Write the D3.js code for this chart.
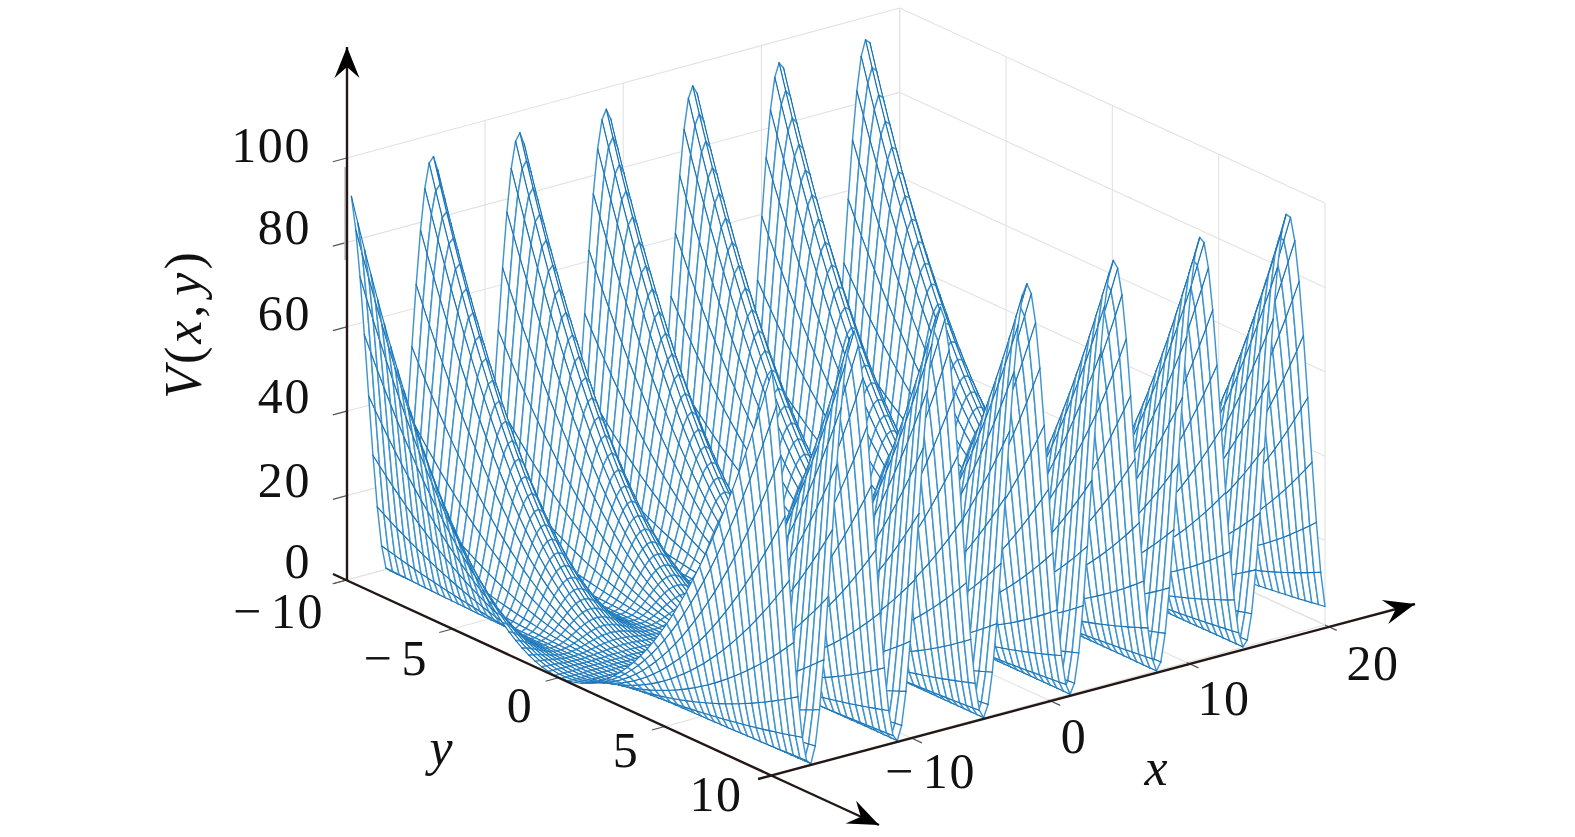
<!DOCTYPE html>
<html>
<head>
<meta charset="utf-8">
<script src="https://cdn.jsdelivr.net/npm/d3@7/dist/d3.min.js"></script>
<style>
html,body{margin:0;padding:0;background:#fff;overflow:hidden}
text{font-family:"Liberation Serif",serif;fill:#111}
</style>
</head>
<body>
<script>
// Data: the surface is stored as two read-off profiles rather than one reading per cell:
// ridgeHeights = V along the y = 10 edge at each xNodes value,
// spanShares   = share of that edge height reached at each yNodes value.
// A cell's height is ridgeHeights[i] * spanShares[j].
const xNodes = [-20,-19.6875,-19.375,-19.0625,-18.75,-18.4375,-18.125,-17.8125,-17.5,-17.1875,-16.875,-16.5625,-16.25,-15.9375,-15.625,-15.3125,-15,-14.6875,-14.375,-14.0625,-13.75,-13.4375,-13.125,-12.8125,-12.5,-12.1875,-11.875,-11.5625,-11.25,-10.9375,-10.625,-10.3125,-10,-9.6875,-9.375,-9.0625,-8.75,-8.4375,-8.125,-7.8125,-7.5,-7.1875,-6.875,-6.5625,-6.25,-5.9375,-5.625,-5.3125,-5,-4.6875,-4.375,-4.0625,-3.75,-3.4375,-3.125,-2.8125,-2.5,-2.1875,-1.875,-1.5625,-1.25,-0.9375,-0.625,-0.3125,0,0.3125,0.625,0.9375,1.25,1.5625,1.875,2.1875,2.5,2.8125,3.125,3.4375,3.75,4.0625,4.375,4.6875,5,5.3125,5.625,5.9375,6.25,6.5625,6.875,7.1875,7.5,7.8125,8.125,8.4375,8.75,9.0625,9.375,9.6875,10,10.3125,10.625,10.9375,11.25,11.5625,11.875,12.1875,12.5,12.8125,13.125,13.4375,13.75,14.0625,14.375,14.6875,15,15.3125,15.625,15.9375,16.25,16.5625,16.875,17.1875,17.5,17.8125,18.125,18.4375,18.75,19.0625,19.375,19.6875,20];
const ridgeHeights = [95.6,87.2,75.1,60.5,45.0,30.0,16.9,7.0,1.2,0.2,4.1,12.4,24.0,38.6,54.2,69.3,82.5,92.6,98.6,99.9,96.3,88.2,76.5,62.2,46.7,31.5,18.2,7.8,1.6,0.1,3.4,11.2,22.8,37.0,52.5,67.7,81.2,91.7,98.2,100,96.9,89.3,77.9,63.8,48.3,33.1,19.4,8.7,2.0,0,2.8,10.2,21.4,35.4,50.8,66.2,79.9,90.8,97.7,100,97.4,90.3,79.2,65.4,50.0,34.6,20.8,9.7,2.6,0,2.3,9.2,20.1,33.9,49.2,64.6,78.6,89.8,97.2,100,97.9,91.3,80.6,66.9,51.6,36.2,22.1,10.7,3.1,0,1.8,8.3,18.8,32.3,47.5,63.0,77.2,88.8,96.6,99.9,98.4,92.2,81.9,68.5,53.3,37.8,23.5,11.8,3.7,0.1,1.4,7.4,17.5,30.7,45.9,61.4,75.8,87.7,96.0,99.8,98.8,93.0,83.1,70.0,55.0,39.4,24.9,12.8,4.4];
const yNodes = [-9.78,-9.471,-9.162,-8.853,-8.544,-8.235,-7.926,-7.617,-7.308,-6.999,-6.69,-6.381,-6.072,-5.763,-5.454,-5.145,-4.836,-4.527,-4.218,-3.909,-3.6,-3.291,-2.982,-2.673,-2.364,-2.055,-1.746,-1.437,-1.128,-0.819,-0.51,-0.201,0.108,0.417,0.726,1.035,1.344,1.653,1.962,2.271,2.58,2.889,3.198,3.507,3.816,4.125,4.434,4.743,5.052,5.361,5.67,5.979,6.288,6.597,6.906,7.215,7.524,7.833,8.142,8.451,8.76,9.069,9.378,9.687,10];
const spanShares = [.9565,.8970,.8394,.7838,.7300,.6782,.6282,.5802,.5341,.4899,.4476,.4072,.3687,.3321,.2975,.2647,.2339,.2049,.1779,.1528,.1296,.1083,.0889,.0715,.0559,.0422,.0305,.0206,.0127,.0067,.0026,.0004,.0001,.0017,.0053,.0107,.0181,.0273,.0385,.0516,.0666,.0835,.1023,.1230,.1456,.1702,.1966,.2250,.2552,.2874,.3215,.3575,.3954,.4352,.4769,.5206,.5661,.6136,.6629,.7142,.7674,.8225,.8795,.9384,1];
const xTicks = [-10,0,10,20];
const yTicks = [-10,-5,0,5,10];
const zTicks = [0,20,40,60,80,100];
const xGridLines = [-20,-10,0,10,20];
const yGridLines = [-10,-5,0,5,10];
const xTickLabels = ["−10","0","10","20"];
const yTickLabels = ["−10","−5","0","5","10"];
const zTickLabels = ["0","20","40","60","80","100"];

const W = 1575, H = 837;
const svg = d3.select("body").append("svg").attr("width",W).attr("height",H).style("display","block");
svg.append("defs").append("filter").attr("id","soft").attr("filterUnits","userSpaceOnUse")
  .attr("x",0).attr("y",0).attr("width",W).attr("height",H)
  .append("feGaussianBlur").attr("stdDeviation",0.55);

// Orthographic box: each data axis maps to a screen offset through linear scales
const xToLeft = d3.scaleLinear([-20,20],[0,553]);
const xToTop  = d3.scaleLinear([-20,20],[0,-150]);
const yToLeft = d3.scaleLinear([-10,10],[346.7,772]);
const yToTop  = d3.scaleLinear([-10,10],[580,775]);
const zToTop  = d3.scaleLinear([0,100],[0,-422]);
const project = (x,y,z) => [xToLeft(x)+yToLeft(y), xToTop(x)+yToTop(y)+zToTop(z)];

const seg = (a,b) => { const p=d3.path(); p.moveTo(a[0],a[1]); p.lineTo(b[0],b[1]); return p.toString(); };
const grid = svg.append("g").attr("stroke","#e2e2e2").attr("stroke-width",1.1).attr("fill","none");
const gridSegs = [];
zTicks.forEach(z => {
  gridSegs.push([project(-20,-10,z),project(20,-10,z)]);
  gridSegs.push([project(20,-10,z),project(20,10,z)]);
});
xGridLines.forEach(x => {
  gridSegs.push([project(x,-10,0),project(x,-10,100)]);
  gridSegs.push([project(x,-10,0),project(x,10,0)]);
});
yGridLines.forEach(y => {
  gridSegs.push([project(20,y,0),project(20,y,100)]);
  gridSegs.push([project(-20,y,0),project(20,y,0)]);
});
grid.selectAll("path").data(gridSegs).join("path").attr("d",d=>seg(d[0],d[1]));

// Mesh cells, painted far to near: white face, then the pale y = const edges, then the darker x = const edges
const V = (i,j) => ridgeHeights[i]*spanShares[j];
const ops = [];
for (let i=xNodes.length-2;i>=0;i--) for (let j=0;j<yNodes.length-1;j++) {
  const a=project(xNodes[i],yNodes[j],V(i,j)), b=project(xNodes[i+1],yNodes[j],V(i+1,j)),
        c=project(xNodes[i+1],yNodes[j+1],V(i+1,j+1)), d=project(xNodes[i],yNodes[j+1],V(i,j+1));
  const face=d3.path(); face.moveTo(a[0],a[1]);face.lineTo(b[0],b[1]);face.lineTo(c[0],c[1]);face.lineTo(d[0],d[1]);face.closePath();
  const yEdges=d3.path(); yEdges.moveTo(a[0],a[1]);yEdges.lineTo(b[0],b[1]);yEdges.moveTo(d[0],d[1]);yEdges.lineTo(c[0],c[1]);
  const xEdges=d3.path(); xEdges.moveTo(a[0],a[1]);xEdges.lineTo(d[0],d[1]);xEdges.moveTo(b[0],b[1]);xEdges.lineTo(c[0],c[1]);
  ops.push({d:face.toString(),fill:"#fff",stroke:"none",w:0});
  ops.push({d:yEdges.toString(),fill:"none",stroke:"#3f95d0",w:1.45});
  ops.push({d:xEdges.toString(),fill:"none",stroke:"#1872b6",w:1.1});
}
svg.append("g").attr("filter","url(#soft)").attr("stroke-linecap","round")
  .selectAll("path").data(ops).join("path")
  .attr("d",o=>o.d).attr("fill",o=>o.fill).attr("stroke",o=>o.stroke).attr("stroke-width",o=>o.w);

// Ticks
const ticks = svg.append("g").attr("stroke","#555").attr("stroke-width",1.2);
const tickSegs = [];
zTicks.forEach(z=>tickSegs.push([project(-20,-10,z),project(-21,-10,z)]));
yTicks.forEach(y=>tickSegs.push([project(-20,y,0),project(-21,y,0)]));
xTicks.forEach(x=>tickSegs.push([project(x,10,0),project(x,10.55,0)]));
ticks.selectAll("path").data(tickSegs).join("path").attr("d",d=>seg(d[0],d[1]));

// Faint stub beside the vertical axis
svg.append("path").attr("d",seg([345.5,167],[345.5,260])).attr("stroke","#bdbdbd").attr("stroke-width",2.5);

// Axis arrows
const axisColor="#231815";
function arrow(x0,y0,x1,y1){
  svg.append("path").attr("d",seg([x0,y0],[x1,y1])).attr("stroke",axisColor).attr("stroke-width",2.4).attr("fill","none");
  const ang=Math.atan2(y1-y0,x1-x0), ca=Math.cos(ang), sa=Math.sin(ang);
  const pt=(u,v)=>[x1+u*ca-v*sa, y1+u*sa+v*ca];
  const p=d3.path();
  let q=pt(0,0);p.moveTo(q[0],q[1]);
  q=pt(-31,12.5);p.lineTo(q[0],q[1]);
  q=pt(-20,0);p.lineTo(q[0],q[1]);
  q=pt(-31,-12.5);p.lineTo(q[0],q[1]);p.closePath();
  svg.append("path").attr("d",p.toString()).attr("fill","#000");
}
arrow(347,581,347,47);
arrow(758,779,1415,604);
arrow(333,574,879,825);

// Tick labels
const fs=50;
function label(s,x,y,anchor){
  const t=svg.append("text").attr("x",x).attr("y",y).attr("text-anchor",anchor).attr("font-size",fs).attr("letter-spacing",1.6);
  if(s[0]==="−"){ t.append("tspan").text("−"); t.append("tspan").attr("dx",8).text(s.slice(1)); }
  else t.text(s);
}
const zLabelY=[578,497,413,330,244,162];
zTickLabels.forEach((s,i)=>label(s,311,zLabelY[i],"end"));
const xLabelAt=[[976,788,"end"],[1074,753,"middle"],[1224,715,"middle"],[1373,680,"middle"]];
xTickLabels.forEach((s,i)=>label(s,xLabelAt[i][0],xLabelAt[i][1],xLabelAt[i][2]));
const yLabelAt=[[324,628,"end"],[428,675,"end"],[520,722,"middle"],[626,767,"middle"],[716,811,"middle"]];
yTickLabels.forEach((s,i)=>label(s,yLabelAt[i][0],yLabelAt[i][1],yLabelAt[i][2]));

// Axis titles
svg.append("text").attr("x",1156).attr("y",785).attr("text-anchor","middle").attr("font-size",52).attr("font-style","italic").text("x");
svg.append("text").attr("x",441).attr("y",765).attr("text-anchor","middle").attr("font-size",52).attr("font-style","italic").text("y");
const vt=svg.append("text").attr("transform","translate(201,324) rotate(-90)").attr("text-anchor","middle").attr("font-size",52).attr("letter-spacing",3);
[["V",1],["(",0],["x",1],[",",0],["y",1],[")",0]].forEach(([s,it])=>vt.append("tspan").attr("font-style",it?"italic":"normal").attr("dx",s==="y"?6:0).text(s));
</script>
</body>
</html>
